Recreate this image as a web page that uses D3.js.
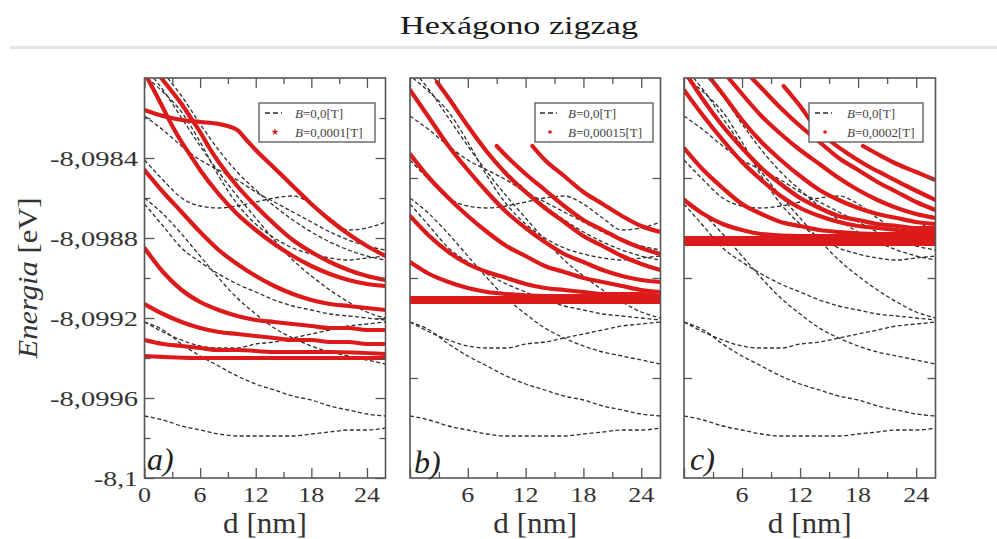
<!DOCTYPE html>
<html>
<head>
<meta charset="utf-8">
<script src="https://cdn.jsdelivr.net/npm/d3@7"></script>
<style>
  html, body { margin: 0; padding: 0; background: #fff; }
  svg { display: block; }
</style>
</head>
<body>
<svg id="chart" width="997" height="539"></svg>
<script>
// ---- Axis ticks and labels ----
const dTicksMajor = [0, 6, 12, 18, 24];
const dTickLabels = ["0", "6", "12", "18", "24"];
const dTicksMinor = [3, 9, 15, 21];
const eTicksA = [-8.1, -8.0996, -8.0992, -8.0988, -8.0984];
const eTickLabelsA = ["-8,1", "-8,0996", "-8,0992", "-8,0988", "-8,0984"];
const eTicksMinorA = [-8.0998, -8.0994, -8.099, -8.0986, -8.0982];
const eTicksBC = [-8.0995, -8.099, -8.0985];
const panelTags = ["a)", "b)", "c)"];
const fieldValues = ["0,0001", "0,00015", "0,0002"];

// ---- Energy levels without field, B = 0 T : [d (nm), E (eV)] ----
const levelsB0 = [
  [[0,-8.09969],[2,-8.09971],[4,-8.09974],[6,-8.09976],[8,-8.09978],[10,-8.09979],[12,-8.09979],[14,-8.09979],[16,-8.09979],[18,-8.09978],[20,-8.09977],[22,-8.09976],[24,-8.09976],[26,-8.09975]],
  [[0,-8.09922],[2,-8.09926],[4,-8.09933],[6,-8.09939],[8,-8.09944],[10,-8.09949],[12,-8.09953],[14,-8.09956],[16,-8.09959],[18,-8.09961],[20,-8.09964],[22,-8.09966],[24,-8.09968],[26,-8.09969]],
  [[0,-8.09922],[2,-8.09927],[4,-8.09931],[6,-8.09934],[8,-8.09935],[10,-8.09935],[12,-8.09933],[14,-8.09932],[16,-8.0993],[18,-8.09928],[20,-8.09926],[22,-8.09924],[24,-8.09923],[26,-8.09922]],
  [[0,-8.0986],[2,-8.09868],[4,-8.09878],[6,-8.09889],[8,-8.099],[10,-8.0991],[12,-8.09918],[14,-8.09925],[16,-8.0993],[18,-8.09934],[20,-8.09937],[22,-8.09939],[24,-8.09941],[26,-8.09943]],
  [[0,-8.09863],[2,-8.09874],[4,-8.09885],[6,-8.09892],[8,-8.09898],[10,-8.09903],[12,-8.09907],[14,-8.09911],[16,-8.09914],[18,-8.09916],[20,-8.09918],[22,-8.09919],[24,-8.0992],[26,-8.09921]],
  [[1,-8.098],[2,-8.09806],[4,-8.0982],[6,-8.09834],[8,-8.09847],[10,-8.09859],[12,-8.0987],[14,-8.09881],[16,-8.09891],[18,-8.09899],[20,-8.09906],[22,-8.09912],[24,-8.09917],[26,-8.0992]],
  [[0,-8.09841],[2,-8.09851],[4,-8.0986],[6,-8.09864],[8,-8.09865],[10,-8.09864],[12,-8.09862],[14,-8.0986],[16,-8.09859],[18,-8.09863],[20,-8.0987],[22,-8.09876],[24,-8.09875],[26,-8.09872]],
  [[0,-8.09819],[2,-8.09826],[4,-8.09834],[6,-8.09841],[8,-8.09846],[10,-8.09851],[12,-8.09857],[14,-8.09862],[16,-8.09867],[18,-8.09872],[20,-8.09877],[22,-8.09881],[24,-8.09884],[26,-8.09886]],
  [[0.3,-8.098],[2,-8.09807],[4,-8.09817],[6,-8.09832],[8,-8.09849],[10,-8.09863],[12,-8.09873],[14,-8.0988],[16,-8.09885],[18,-8.09888],[20,-8.0989],[22,-8.09891],[24,-8.0989],[26,-8.09889]],
  [[2.5,-8.098],[4,-8.09809],[6,-8.09823],[8,-8.09836],[10,-8.09847],[12,-8.09856],[14,-8.09864],[16,-8.09871],[18,-8.09877],[20,-8.09882],[22,-8.09886],[24,-8.09889],[26,-8.09891]]
];

// ---- Levels with B = 0,0001 T ----
const levelsA = [
  [[1.8,-8.098],[3,-8.09807],[4,-8.09813],[5,-8.0982],[6,-8.09827],[7,-8.09835],[8,-8.09842],[10,-8.09854],[12,-8.09864],[14,-8.09873],[16,-8.09881],[18,-8.09887],[20,-8.09892],[22,-8.09896],[24,-8.09899],[26,-8.09901]],
  [[0,-8.09816],[2,-8.09819],[4,-8.09821],[6,-8.09822],[8,-8.09823],[10,-8.09826],[11,-8.09831],[12,-8.09836],[14,-8.09845],[16,-8.09854],[18,-8.09863],[20,-8.09871],[22,-8.09878],[24,-8.09884],[26,-8.09889]],
  [[0.3,-8.098],[1,-8.09806],[2,-8.09815],[3,-8.09824],[4,-8.09832],[5,-8.09839],[6,-8.09846],[8,-8.09858],[10,-8.09868],[12,-8.09876],[14,-8.09883],[16,-8.09889],[18,-8.09894],[20,-8.09898],[22,-8.09901],[24,-8.09903],[26,-8.09904]],
  [[0,-8.09846],[2,-8.09857],[4,-8.09867],[6,-8.09877],[8,-8.09886],[10,-8.09893],[12,-8.09899],[14,-8.09904],[16,-8.09908],[18,-8.09911],[20,-8.09913],[22,-8.09914],[24,-8.09915],[26,-8.09916]],
  [[0,-8.09885],[2,-8.09897],[4,-8.09906],[6,-8.09912],[8,-8.09916],[10,-8.09919],[12,-8.09921],[14,-8.09922],[16,-8.09923],[18,-8.09924],[20,-8.09925],[22,-8.09925],[24,-8.09926],[26,-8.09926]],
  [[0,-8.09913],[2,-8.09918],[4,-8.09922],[6,-8.09925],[8,-8.09927],[10,-8.09928],[12,-8.09929],[14,-8.0993],[16,-8.09931],[18,-8.09931],[20,-8.09932],[22,-8.09932],[24,-8.09933],[26,-8.09933]],
  [[0,-8.09931],[2,-8.09933],[4,-8.09934],[6,-8.09935],[8,-8.09936],[10,-8.09936],[14,-8.09937],[20,-8.09937],[26,-8.09938]],
  [[0,-8.09939],[6,-8.0994],[14,-8.0994],[20,-8.0994],[26,-8.0994]]
];

// ---- Levels with B = 0,00015 T ----
const levelsB = [
  [[12.7,-8.09834],[14,-8.09841],[16,-8.09849],[18,-8.09857],[20,-8.09863],[22,-8.09869],[24,-8.09874],[26,-8.09877]],
  [[9,-8.09834],[10,-8.09839],[12,-8.09848],[14,-8.09856],[16,-8.09864],[18,-8.09871],[20,-8.09876],[22,-8.09881],[24,-8.09885],[26,-8.09888]],
  [[2.8,-8.09802],[4,-8.0981],[6,-8.09824],[8,-8.09837],[10,-8.09848],[12,-8.09857],[14,-8.09865],[16,-8.09872],[18,-8.09879],[20,-8.09884],[22,-8.09889],[24,-8.09893],[26,-8.09896]],
  [[0,-8.09806],[2,-8.0982],[4,-8.09834],[6,-8.09846],[8,-8.09857],[10,-8.09867],[12,-8.09875],[14,-8.09882],[16,-8.09888],[18,-8.09892],[20,-8.09896],[22,-8.09899],[24,-8.09901],[26,-8.09902]],
  [[0,-8.09838],[2,-8.0985],[4,-8.0986],[6,-8.09869],[8,-8.09877],[10,-8.09884],[12,-8.09889],[14,-8.09894],[16,-8.09897],[18,-8.099],[20,-8.09902],[22,-8.09904],[24,-8.09906],[26,-8.09907]],
  [[0,-8.09869],[2,-8.09879],[4,-8.09887],[6,-8.09893],[8,-8.09897],[10,-8.099],[12,-8.09903],[14,-8.09905],[16,-8.09906],[18,-8.09907],[20,-8.09908],[24,-8.09908],[26,-8.09909]],
  [[0,-8.09892],[2,-8.09898],[4,-8.09902],[6,-8.09905],[8,-8.09907],[10,-8.09908],[14,-8.09909],[26,-8.09909]],
  [[0,-8.0991],[26,-8.0991]],
  [[0,-8.09911],[26,-8.09911]],
  [[0,-8.09912],[26,-8.09912]]
];

// ---- Levels with B = 0,0002 T ----
const levelsC = [
  [[18.5,-8.09834],[20,-8.09838],[22,-8.09843],[24,-8.09847],[26,-8.09851]],
  [[10.3,-8.09804],[12,-8.09814],[13.5,-8.09824],[15,-8.09831],[17,-8.09838],[19,-8.09844],[21,-8.09849],[23,-8.09854],[26,-8.09861]],
  [[7,-8.098],[8,-8.09805],[10,-8.09815],[12,-8.09824],[14,-8.09832],[16,-8.0984],[18,-8.09846],[20,-8.09852],[22,-8.09857],[24,-8.09862],[26,-8.09866]],
  [[4.6,-8.098],[6,-8.09808],[8,-8.09819],[10,-8.09828],[12,-8.09836],[14,-8.09843],[16,-8.0985],[18,-8.09856],[20,-8.09861],[22,-8.09865],[24,-8.09868],[26,-8.0987]],
  [[2.7,-8.098],[4,-8.09808],[6,-8.09821],[8,-8.09832],[10,-8.09841],[12,-8.09849],[14,-8.09856],[16,-8.09861],[18,-8.09865],[20,-8.09868],[22,-8.0987],[24,-8.09872],[26,-8.09873]],
  [[0.5,-8.098],[2,-8.09811],[4,-8.09824],[6,-8.09835],[8,-8.09845],[10,-8.09853],[12,-8.0986],[14,-8.09865],[16,-8.09869],[18,-8.09871],[20,-8.09873],[22,-8.09874],[24,-8.09875],[26,-8.09875]],
  [[0,-8.09806],[2,-8.09819],[4,-8.09831],[6,-8.09842],[8,-8.09851],[10,-8.09859],[12,-8.09865],[14,-8.09869],[16,-8.09872],[18,-8.09874],[20,-8.09875],[22,-8.09876],[24,-8.09877],[26,-8.09877]],
  [[0,-8.09835],[2,-8.09846],[4,-8.09855],[6,-8.09863],[8,-8.09868],[10,-8.09872],[12,-8.09874],[14,-8.09876],[16,-8.09877],[20,-8.09878],[26,-8.09878]],
  [[0,-8.09861],[2,-8.09868],[4,-8.09873],[6,-8.09876],[8,-8.09878],[12,-8.09879],[26,-8.09879]],
  [[0,-8.0988],[26,-8.0988]],
  [[0,-8.09881],[26,-8.09881]],
  [[0,-8.09882],[26,-8.09882]],
  [[0,-8.09883],[26,-8.09883]]
];

// ---- Layout ----
const W = 997, H = 539;
const plotTop = 78, plotBottom = 478;
const RED = "#dc1a1a", DASH = "#2e2e2e", FRAME = "#555", LABEL = "#333";
const SERIF = "Liberation Serif, DejaVu Serif";

const panels = [
  { left: 144.5, right: 385.5, levels: levelsA, boxX: 259, boxW: 116, sampleX: 265, textX: 295, marker: "star", tagX: 147, tagY: 470, first: true },
  { left: 410,   right: 660.5, levels: levelsB, boxX: 535, boxW: 118, sampleX: 540, textX: 568, marker: "dot",  tagX: 414, tagY: 473, first: false },
  { left: 684,   right: 935.5, levels: levelsC, boxX: 809, boxW: 114, sampleX: 815, textX: 847, marker: "dot",  tagX: 690, tagY: 470, first: false }
];

const svg = d3.select("#chart").style("font-family", SERIF);
svg.append("rect").attr("width", W).attr("height", H).attr("fill", "#fff");

// Title and rule under it
svg.append("text")
  .attr("x", 519).attr("y", 34)
  .attr("text-anchor", "middle")
  .style("font-family", SERIF)
  .attr("font-size", 25)
  .attr("textLength", 238).attr("lengthAdjust", "spacingAndGlyphs")
  .attr("fill", "#1a1a1a")
  .text("Hexágono zigzag");
svg.append("line")
  .attr("x1", 10).attr("x2", W).attr("y1", 47.5).attr("y2", 47.5)
  .attr("stroke", "#e4e4e4").attr("stroke-width", 3);

const y = d3.scaleLinear().domain([-8.1, -8.098]).range([plotBottom, plotTop]);
const defs = svg.append("defs");

panels.forEach((p, i) => {
  const x = d3.scaleLinear().domain([0, 26]).range([p.left, p.right]);
  const g = svg.append("g");
  const clipId = "plot-clip-" + i;
  defs.append("clipPath").attr("id", clipId)
    .append("rect")
    .attr("x", p.left).attr("y", plotTop)
    .attr("width", p.right - p.left).attr("height", plotBottom - plotTop);

  const line = d3.line()
    .x(d => x(d[0]))
    .y(d => y(d[1]))
    .curve(d3.curveMonotoneX);

  const plot = g.append("g").attr("clip-path", `url(#${clipId})`);

  // B = 0 levels: dashed
  plot.append("g").selectAll("path")
    .data(levelsB0).join("path")
    .attr("d", line)
    .attr("fill", "none")
    .attr("stroke", DASH)
    .attr("stroke-width", 1.3)
    .attr("stroke-dasharray", "4 2.5");

  // Levels with field: dense red markers forming thick traces
  plot.append("g").selectAll("path")
    .data(p.levels).join("path")
    .attr("d", line)
    .attr("fill", "none")
    .attr("stroke", RED)
    .attr("stroke-width", 4.2)
    .attr("stroke-linecap", "round")
    .attr("stroke-linejoin", "round");

  // Ticks, all pointing inward
  const styleAxis = sel => {
    sel.select(".domain").remove();
    sel.selectAll(".tick line").attr("stroke", FRAME).attr("stroke-width", 1.3);
    sel.selectAll(".tick text").remove();
  };
  const axes = [
    [d3.axisBottom(x).tickValues(dTicksMajor).tickSize(-10), `translate(0,${plotBottom})`],
    [d3.axisBottom(x).tickValues(dTicksMinor).tickSize(-6),  `translate(0,${plotBottom})`],
    [d3.axisTop(x).tickValues(dTicksMajor).tickSize(-10),    `translate(0,${plotTop})`],
    [d3.axisTop(x).tickValues(dTicksMinor).tickSize(-6),     `translate(0,${plotTop})`]
  ];
  if (p.first) {
    axes.push([d3.axisLeft(y).tickValues(eTicksA).tickSize(-10),       `translate(${p.left},0)`]);
    axes.push([d3.axisLeft(y).tickValues(eTicksMinorA).tickSize(-6),   `translate(${p.left},0)`]);
    axes.push([d3.axisRight(y).tickValues(eTicksA).tickSize(-10),      `translate(${p.right},0)`]);
    axes.push([d3.axisRight(y).tickValues(eTicksMinorA).tickSize(-6),  `translate(${p.right},0)`]);
  } else {
    axes.push([d3.axisLeft(y).tickValues(eTicksBC).tickSize(-8),  `translate(${p.left},0)`]);
    axes.push([d3.axisRight(y).tickValues(eTicksBC).tickSize(-8), `translate(${p.right},0)`]);
  }
  axes.forEach(([ax, tr]) => g.append("g").attr("transform", tr).call(ax).call(styleAxis));

  // Frame
  g.append("rect")
    .attr("x", p.left).attr("y", plotTop)
    .attr("width", p.right - p.left).attr("height", plotBottom - plotTop)
    .attr("fill", "none").attr("stroke", FRAME).attr("stroke-width", 1.6);

  // d tick labels
  dTicksMajor.forEach((v, k) => {
    if (v === 0 && !p.first) return;
    g.append("text")
      .attr("x", x(v)).attr("y", 502)
      .attr("text-anchor", "middle")
      .style("font-family", SERIF)
      .attr("font-size", 22)
      .attr("textLength", dTickLabels[k].length * 13).attr("lengthAdjust", "spacingAndGlyphs")
      .attr("fill", LABEL)
      .text(dTickLabels[k]);
  });

  // axis title
  g.append("text")
    .attr("x", (p.left + p.right) / 2).attr("y", 533)
    .attr("text-anchor", "middle")
    .style("font-family", SERIF)
    .attr("font-size", 30)
    .attr("textLength", 84).attr("lengthAdjust", "spacingAndGlyphs")
    .attr("fill", LABEL)
    .text("d [nm]");

  // energy tick labels (first panel only)
  if (p.first) {
    eTicksA.forEach((v, k) => {
      const label = eTickLabelsA[k];
      g.append("text")
        .attr("x", 138).attr("y", y(v) + 8)
        .attr("text-anchor", "end")
        .style("font-family", SERIF)
        .attr("font-size", 22)
        .attr("textLength", label.length > 4 ? 88 : 44).attr("lengthAdjust", "spacingAndGlyphs")
        .attr("fill", LABEL)
        .text(label);
    });
  }

  // panel tag
  g.append("text")
    .attr("x", p.tagX).attr("y", p.tagY)
    .style("font-family", SERIF)
    .attr("font-size", 32)
    .attr("font-style", "italic")
    .attr("fill", "#222")
    .text(panelTags[i]);

  // legend
  const lg = g.append("g");
  lg.append("rect")
    .attr("x", p.boxX).attr("y", 103)
    .attr("width", p.boxW).attr("height", 39)
    .attr("fill", "#fff").attr("stroke", FRAME).attr("stroke-width", 1.3);
  lg.append("line")
    .attr("x1", p.sampleX).attr("x2", p.sampleX + 17)
    .attr("y1", 113).attr("y2", 113)
    .attr("stroke", DASH).attr("stroke-width", 1.3).attr("stroke-dasharray", "5 3");
  const mx = p.sampleX + 10, my = 132;
  if (p.marker === "star") {
    lg.append("path")
      .attr("transform", `translate(${mx},${my})`)
      .attr("d", d3.symbol(d3.symbolStar, 16)())
      .attr("fill", RED);
  } else {
    lg.append("circle").attr("cx", mx).attr("cy", my).attr("r", 1.8).attr("fill", RED);
  }
  const t1 = lg.append("text").attr("x", p.textX).attr("y", 118)
    .style("font-family", SERIF).attr("font-size", 13).attr("fill", "#444");
  t1.append("tspan").attr("font-style", "italic").text("B");
  t1.append("tspan").text("=0,0[T]");
  const t2 = lg.append("text").attr("x", p.textX).attr("y", 137)
    .style("font-family", SERIF).attr("font-size", 13).attr("fill", "#444");
  t2.append("tspan").attr("font-style", "italic").text("B");
  t2.append("tspan").text("=" + fieldValues[i] + "[T]");
});

// energy axis title
const yt = svg.append("text")
  .attr("transform", "translate(37,278) rotate(-90)")
  .attr("text-anchor", "middle")
  .style("font-family", SERIF)
  .attr("font-size", 27)
  .attr("textLength", 161).attr("lengthAdjust", "spacingAndGlyphs")
  .attr("fill", LABEL);
yt.append("tspan").attr("font-style", "italic").text("Energia");
yt.append("tspan").text(" [eV]");
</script>
</body>
</html>
